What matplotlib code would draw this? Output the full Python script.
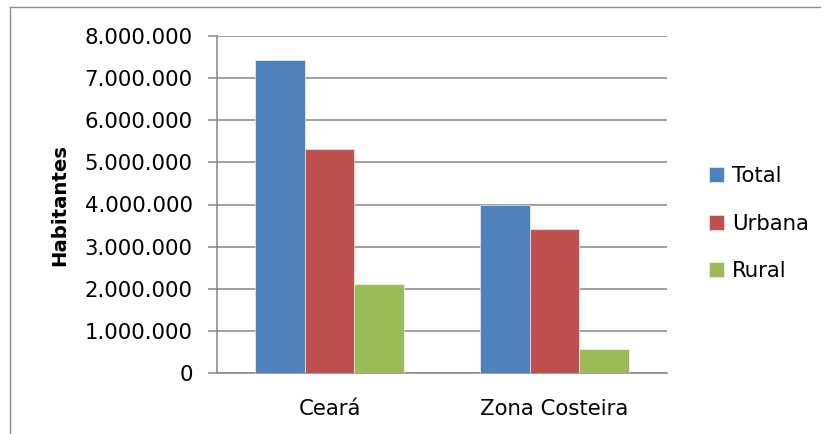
import numpy as np
import matplotlib
matplotlib.use("Agg")
import matplotlib.pyplot as plt
from matplotlib.lines import Line2D
from matplotlib.ticker import FuncFormatter

# Population (habitantes) by region and situation
regions = ["Ceará", "Zona Costeira"]
series_names = ["Total", "Urbana", "Rural"]
total = [7430661, 3980000]
urbana = [5315318, 3410000]
rural = [2115343, 570000]
colors = ["#4F81BD", "#C0504D", "#9BBB59"]

yticks = np.arange(0, 8000001, 1000000)

plt.rcParams["font.family"] = ["DejaVu Sans"]
grid_color = "#868686"
fs = 15.3

fig = plt.figure(figsize=(8.29, 4.34), dpi=100)
ax = fig.add_axes([217 / 829, 1 - 373 / 434, 450 / 829, 337 / 434])

x = np.arange(len(regions))
width = 0.222
for i, (name, vals) in enumerate(zip(series_names, [total, urbana, rural])):
    ax.bar(x + (i - 1) * width, vals, width, color=colors[i], label=name,
           edgecolor="white", linewidth=0.4, zorder=3)

ax.set_xlim(-0.5, 1.5)
ax.set_ylim(0, 8000000)
ax.set_yticks(yticks)
ax.yaxis.set_major_formatter(FuncFormatter(lambda v, p: f"{int(v):,}".replace(",", ".")))
ax.set_xticks(x)
ax.set_xticklabels(regions)

ax.grid(axis="y", color=grid_color, linewidth=1.1, zorder=0)
for side in ["top", "right"]:
    ax.spines[side].set_visible(False)
for side in ["left", "bottom"]:
    ax.spines[side].set_color(grid_color)
    ax.spines[side].set_linewidth(1.1)

ax.tick_params(axis="y", length=6.5, width=1.1, color=grid_color, pad=11, labelsize=fs)
ax.tick_params(axis="x", length=0, pad=19, labelsize=fs)
ax.set_ylabel("Habitantes", fontsize=14.2, fontweight="bold", labelpad=11)

fig.legend(loc="center left", bbox_to_anchor=(709 / 829, 1 - 223.5 / 434),
           frameon=False, fontsize=fs, handlelength=0.71, handleheight=0.71,
           handletextpad=0.38, labelspacing=1.3, borderpad=0, borderaxespad=0)

# chart area border (left and top edges)
fig.add_artist(Line2D([10 / 829, 10 / 829], [0, 1 - 7 / 434], color="#8c8c8c",
                      linewidth=1.0, transform=fig.transFigure))
fig.add_artist(Line2D([10 / 829, 820 / 829], [1 - 7 / 434, 1 - 7 / 434], color="#8c8c8c",
                      linewidth=1.0, transform=fig.transFigure))

fig.savefig("out.png", dpi=100)
